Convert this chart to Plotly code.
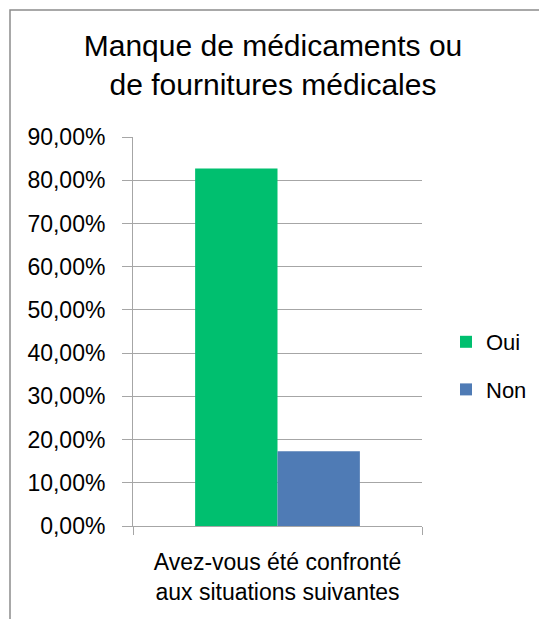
import plotly.graph_objects as go

categories = ["Avez-vous été confronté<br>aux situations suivantes"]
series_names = ["Oui", "Non"]
oui_values = [0.827]
non_values = [0.173]
colors = ["#00BF6F", "#4F7BB5"]
title_text = "Manque de médicaments ou<br>de fournitures médicales"
y_ticks = [0, 0.1, 0.2, 0.3, 0.4, 0.5, 0.6, 0.7, 0.8, 0.9]

OFF = 8  # page body margin offset
W, H = 547 - OFF, 619 - OFF
L, R, T, B = 133 - OFF, 125, 137 - OFF, 93

fig = go.Figure()
for name, vals, col, grp in [(series_names[0], oui_values, colors[0], "a"),
                             (series_names[1], non_values, colors[1], "b")]:
    fig.add_trace(go.Bar(x=categories, y=vals, name=name, marker_color=col,
                         marker_line_width=0, legendgroup=grp))

FONT = "Liberation Sans"
fig.update_layout(
    width=W, height=H,
    margin=dict(l=L, r=R, t=T, b=B, pad=0),
    paper_bgcolor="white", plot_bgcolor="white",
    separators=", ",
    barmode="group", bargap=0.43, bargroupgap=0,
    title=dict(text=title_text, x=(273 - OFF) / W, xanchor="center", xref="container",
               y=1 - 48 / H, yanchor="top", yref="container",
               font=dict(family=FONT, size=30, color="#000")),
    legend=dict(x=(446 - OFF) / W, xanchor="left", xref="container",
                y=1 - 313 / H, yanchor="top", yref="container",
                font=dict(family=FONT, size=22, color="#000"),
                tracegroupgap=16, itemwidth=30, bgcolor="rgba(0,0,0,0)"),
    shapes=[dict(type="path", xref="paper", yref="paper",
                 path="M {x0},{y0} L {x0},{y1} L {x2},{y1}".format(
                     x0=(2 - L) / (W - L - R), y0=-(H - T) / (H - T - B),
                     y1=(H - 2 - B) / (H - T - B), x2=(W - L) / (W - L - R)),
                 line=dict(color="#8C8C8C", width=1.5))],
)
fig.update_yaxes(range=[0, 0.9], tickvals=y_ticks, tickformat=".2%",
                 showgrid=True, gridcolor="#A6A6A6", gridwidth=1,
                 showline=True, linecolor="#A6A6A6", linewidth=1,
                 ticks="outside", ticklen=10, tickcolor="#A6A6A6",
                 ticklabelstandoff=12, zeroline=False,
                 tickfont=dict(family=FONT, size=23, color="#000"))
fig.update_xaxes(showline=True, linecolor="#A6A6A6", linewidth=1,
                 ticks="outside", tickson="boundaries", ticklen=8,
                 tickcolor="#A6A6A6", ticklabelstandoff=15,
                 tickfont=dict(family=FONT, size=23, color="#000"))

fig.write_html("out.html")
